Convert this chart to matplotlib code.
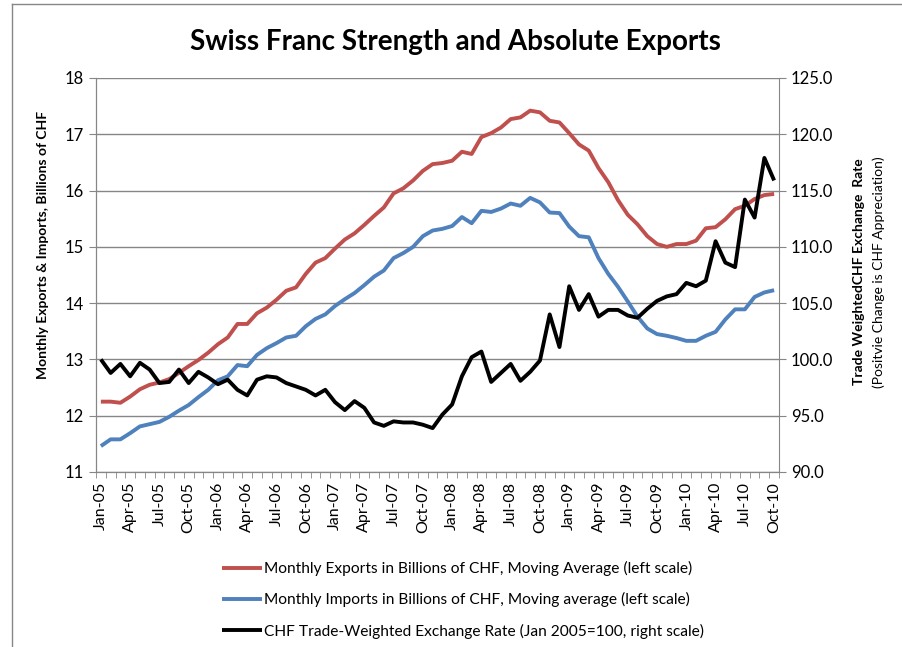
import matplotlib
matplotlib.use('Agg')
import matplotlib.pyplot as plt
from matplotlib.lines import Line2D
from matplotlib.ticker import FixedLocator, FormatStrFormatter
import pandas as pd

plt.rcParams['font.family'] = ['Lato', 'DejaVu Sans']

# monthly values, Jan-05 .. Oct-10
months = list(pd.date_range('2005-01-01', periods=70, freq='MS').strftime('%b-%y'))

exports = [
    12.25, 12.25, 12.23, 12.34, 12.47, 12.55, 12.59, 12.65, 12.76, 12.88, 12.99, 13.12,
    13.27, 13.39, 13.63, 13.63, 13.82, 13.92, 14.06, 14.22, 14.28, 14.52, 14.72, 14.80,
    14.97, 15.13, 15.24, 15.39, 15.55, 15.70, 15.95, 16.04, 16.18, 16.35, 16.47, 16.49,
    16.53, 16.69, 16.65, 16.95, 17.02, 17.12, 17.27, 17.30, 17.42, 17.39, 17.24, 17.21,
    17.02, 16.82, 16.71, 16.40, 16.15, 15.83, 15.57, 15.40, 15.19, 15.05, 15.00, 15.05,
    15.05, 15.11, 15.33, 15.35, 15.49, 15.67, 15.73, 15.85, 15.92, 15.94,
]
imports = [
    11.46, 11.58, 11.58, 11.69, 11.81, 11.85, 11.89, 11.98, 12.09, 12.19, 12.33, 12.46,
    12.63, 12.70, 12.90, 12.88, 13.08, 13.20, 13.29, 13.39, 13.42, 13.59, 13.72, 13.80,
    13.95, 14.07, 14.18, 14.32, 14.47, 14.58, 14.80, 14.89, 15.00, 15.19, 15.29, 15.32,
    15.37, 15.53, 15.42, 15.64, 15.62, 15.68, 15.77, 15.73, 15.87, 15.79, 15.61, 15.60,
    15.36, 15.19, 15.17, 14.80, 14.52, 14.29, 14.03, 13.76, 13.55, 13.45, 13.42, 13.38,
    13.33, 13.33, 13.42, 13.49, 13.71, 13.89, 13.89, 14.11, 14.19, 14.23,
]
chf_rate = [
    100.0, 98.8, 99.6, 98.5, 99.7, 99.1, 97.9, 98.0, 99.1, 97.9, 98.9, 98.4,
    97.8, 98.2, 97.3, 96.8, 98.2, 98.5, 98.4, 97.9, 97.6, 97.3, 96.8, 97.3,
    96.2, 95.5, 96.3, 95.7, 94.4, 94.1, 94.5, 94.4, 94.4, 94.2, 93.9, 95.1,
    96.0, 98.5, 100.2, 100.7, 98.0, 98.8, 99.6, 98.1, 98.9, 99.9, 104.0, 101.1,
    106.5, 104.4, 105.8, 103.8, 104.4, 104.4, 103.9, 103.7, 104.5, 105.2, 105.6, 105.8,
    106.8, 106.5, 107.0, 110.5, 108.6, 108.2, 114.2, 112.6, 117.9, 115.9,
]

labels = [
    'Monthly Exports in Billions of CHF, Moving Average (left scale)',
    'Monthly Imports in Billions of CHF, Moving average (left scale)',
    'CHF Trade-Weighted Exchange Rate (Jan 2005=100, right scale)',
]

RED = '#C0504D'
BLUE = '#4F81BD'
GRAY = '#868686'
W, H = 903, 647


def style_axis(ax):
    for s in ax.spines.values():
        s.set_color(GRAY)
    ax.spines['top'].set_visible(False)
    ax.tick_params(colors=GRAY, labelcolor='black', labelsize=12, length=5)


def main():
    fig = plt.figure(figsize=(W / 100, H / 100), dpi=100)
    ax = fig.add_axes([96 / W, 1 - 472 / H, (779 - 96) / W, (472 - 78) / H])
    ax2 = ax.twinx()

    x = range(len(months))
    h1, = ax.plot(x, exports, color=RED, lw=2.8, solid_capstyle='butt')
    h2, = ax.plot(x, imports, color=BLUE, lw=2.8, solid_capstyle='butt')
    h3, = ax2.plot(x, chf_rate, color='black', lw=2.8, solid_capstyle='butt')

    ax.set_xlim(-0.5, len(months) - 0.5)
    ax.set_ylim(11, 18)
    ax.set_yticks(range(11, 19))
    ax.yaxis.grid(True, color=GRAY, lw=1)
    ax.set_axisbelow(True)
    ax2.set_ylim(90, 125)
    ax2.set_yticks(range(90, 126, 5))
    ax2.yaxis.set_major_formatter(FormatStrFormatter('%.1f'))

    style_axis(ax)
    style_axis(ax2)
    ax.spines['right'].set_visible(False)

    ax.set_xticks(list(x)[::3])
    ax.set_xticklabels(months[::3], rotation=90, fontsize=11.5)
    ax.tick_params(axis='x', which='major', length=0, pad=7)
    ax.xaxis.set_minor_locator(FixedLocator([i - 0.5 for i in range(len(months) + 1)]))
    ax.tick_params(axis='x', which='minor', length=4, color=GRAY)

    fig.text(0.504, 1 - 42 / H, 'Swiss Franc Strength and Absolute Exports',
             ha='center', va='center', fontsize=20, fontweight='bold')
    fig.text(43 / W, 1 - 245 / H, 'Monthly Exports & Imports, Billions of CHF',
             rotation=90, ha='center', va='center', fontsize=10, fontweight='bold')
    fig.text(859 / W, 1 - 272 / H, 'Trade WeightedCHF Exchange  Rate',
             rotation=90, ha='center', va='center', fontsize=10, fontweight='bold')
    fig.text(879 / W, 1 - 272 / H, '(Positvie Change is CHF Appreciation)',
             rotation=90, ha='center', va='center', fontsize=10)

    fig.legend([h1, h2, h3], labels, loc='upper left',
               bbox_to_anchor=(222 / W, 1 - 561 / H), frameon=False,
               fontsize=11.2, handlelength=2.6, handletextpad=0.1,
               labelspacing=1.05, borderpad=0, borderaxespad=0)

    # chart border (cropped on right and bottom)
    fig.add_artist(Line2D([12 / W, 12 / W], [0, 1 - 4 / H], color=GRAY, lw=1,
                          transform=fig.transFigure))
    fig.add_artist(Line2D([12 / W, 1], [1 - 4 / H, 1 - 4 / H], color=GRAY, lw=1,
                          transform=fig.transFigure))

    fig.savefig('out.png', dpi=100)


if __name__ == '__main__':
    main()
